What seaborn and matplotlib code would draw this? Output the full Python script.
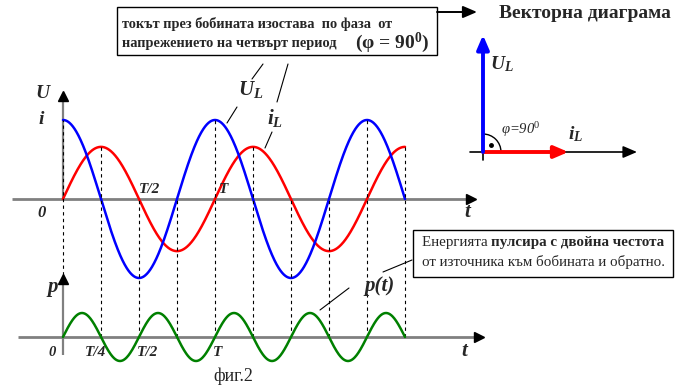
import numpy as np
import pandas as pd
import matplotlib
matplotlib.use("Agg")
import matplotlib.pyplot as plt
import seaborn as sns
from matplotlib.patches import Rectangle, Arc, FancyArrowPatch
from matplotlib.lines import Line2D

sns.set_theme(style="white")
plt.rcParams['font.family'] = ['Liberation Serif', 'DejaVu Serif']
plt.rcParams['mathtext.fontset'] = 'custom'
plt.rcParams['mathtext.rm'] = 'Liberation Serif'
plt.rcParams['mathtext.it'] = 'Liberation Serif:italic'
plt.rcParams['mathtext.bf'] = 'Liberation Serif:bold:italic'
plt.rcParams['mathtext.sf'] = 'Liberation Serif:bold'

# ---------------- data ----------------
PERIOD = 1.0                 # T
N_PERIODS = 2.25             # curves run from 0 to 2.25 T
U_AMPLITUDE = 1.0            # voltage amplitude
I_AMPLITUDE = 0.66           # current amplitude
P_AMPLITUDE = 1.0            # power amplitude
PHASE_SHIFT_DEG = 90         # voltage leads current by 90 degrees
MARK_TIMES = [0.0, 0.25, 0.5, 0.75, 1.0, 1.25, 1.5, 1.75, 2.0, 2.25]
VECTOR_U = 1.0               # phasor lengths in the vector diagram
VECTOR_I = 0.73

top_tick_labels = ['T/2', 'T']
bottom_tick_labels = ['0', 'T/4', 'T/2', 'T']

# ---------------- layout (pixels) ----------------
W, H = 691, 389
X0_PX, T_PX = 63, 152
UI_ZERO_PX, U_PX = 199, 79
P_ZERO_PX, P_PX = 337, 24
VX, VY, VU = 483, 152, 117

GRAY = '#808080'
BLUE = '#0000FF'
RED = '#FF0000'
GREEN = '#008000'


def fx(px):
    return px / W


def fy(py):
    return 1 - py / H


def t_of(px):
    return (px - X0_PX) / T_PX


def ui_of(py):
    return (UI_ZERO_PX - py) / U_PX


def p_of(py):
    return (P_ZERO_PX - py) / P_PX


fig = plt.figure(figsize=(W / 100, H / 100), dpi=100)
fig.patch.set_facecolor('white')
ax_ui = fig.add_axes([0, 0, 1, 1])
ax_p = fig.add_axes([0, 0, 1, 1])
ax_v = fig.add_axes([0, 0, 1, 1])

# ---------------- curves ----------------
t = np.linspace(0, N_PERIODS * PERIOD, 800)
omega = 2 * np.pi / PERIOD
df = pd.DataFrame({
    't': t,
    'U': U_AMPLITUDE * np.sin(omega * t + np.radians(PHASE_SHIFT_DEG)),
    'i': I_AMPLITUDE * np.sin(omega * t),
})
df['p'] = P_AMPLITUDE * np.sin(2 * omega * t)

# dashed guide lines at quarter periods (drawn in the p axes)
mt = np.array(MARK_TIMES)
u_m = U_AMPLITUDE * np.sin(omega * mt + np.radians(PHASE_SHIFT_DEG))
i_m = I_AMPLITUDE * np.sin(omega * mt)
for k, m in enumerate(mt):
    top_ui = max(u_m[k], i_m[k], 0.0)
    top_px = UI_ZERO_PX - top_ui * U_PX
    bottom = p_of(275) if k == 0 else 0.0
    ax_p.plot([m, m], [bottom, p_of(top_px)], color='black', lw=0.8,
              ls=(0, (3, 3)), zorder=1)

# axes of the U/i graph
ax_ui.plot([t_of(12), t_of(470)], [0, 0], color=GRAY, lw=2, zorder=2, solid_capstyle='butt')
ax_ui.plot([t_of(471)], [0], marker='>', ms=7, color='black', zorder=3)
ax_ui.plot([0, 0], [0, ui_of(97)], color=GRAY, lw=1.6, zorder=2, solid_capstyle='butt')
ax_ui.plot([0], [ui_of(96)], marker='^', ms=7, color='black', zorder=3)

# axes of the p graph
ax_p.plot([t_of(18), t_of(478)], [0, 0], color=GRAY, lw=2, zorder=2, solid_capstyle='butt')
ax_p.plot([t_of(479)], [0], marker='>', ms=7, color='black', zorder=3)
ax_p.plot([0, 0], [p_of(355), p_of(280)], color=GRAY, lw=1.6, zorder=2, solid_capstyle='butt')
ax_p.plot([0], [p_of(279)], marker='^', ms=7, color='black', zorder=3)

sns.lineplot(data=df, x='t', y='i', ax=ax_ui, color=RED, lw=1.8, sort=False,
             estimator=None, legend=False, zorder=4)
sns.lineplot(data=df, x='t', y='U', ax=ax_ui, color=BLUE, lw=1.8, sort=False,
             estimator=None, legend=False, zorder=5)
sns.lineplot(data=df, x='t', y='p', ax=ax_p, color=GREEN, lw=1.8, sort=False,
             estimator=None, legend=False, zorder=4)

# ---------------- vector diagram ----------------
ax_v.plot([-13 / VU, 150 / VU], [0, 0], color='black', lw=1.2, zorder=1)
ax_v.annotate('', xy=(154 / VU, 0), xytext=(140 / VU, 0),
              arrowprops=dict(arrowstyle='-|>,head_length=0.7,head_width=0.3',
                              color='black', lw=1.2, shrinkA=0, shrinkB=0, mutation_scale=12))
ax_v.plot([0, 0], [0, -8 / VU], color='black', lw=1.2, zorder=1)
ax_v.annotate('', xy=(VECTOR_I, 0), xytext=(0, 0),
              arrowprops=dict(arrowstyle='-|>,head_length=0.7,head_width=0.3',
                              color=RED, lw=2.8, shrinkA=0, shrinkB=0, mutation_scale=12),
              zorder=3)
ax_v.annotate('', xy=(0, VECTOR_U), xytext=(0, 0),
              arrowprops=dict(arrowstyle='-|>,head_length=0.7,head_width=0.3',
                              color=BLUE, lw=2.8, shrinkA=0, shrinkB=0, mutation_scale=12),
              zorder=4)
ax_v.add_patch(Arc((0, 0), 2 * 18 / VU, 2 * 18 / VU, theta1=0, theta2=90,
                   color='black', lw=1.0))
ax_v.plot([8 / VU], [7 / VU], marker='o', ms=2.5, color='black')

for a in (ax_ui, ax_p, ax_v):
    a.set_axis_off()
    a.patch.set_alpha(0)
x_lim = (-X0_PX / T_PX, (W - X0_PX) / T_PX)
ax_ui.set_xlim(*x_lim)
ax_ui.set_ylim(-(H - UI_ZERO_PX) / U_PX, UI_ZERO_PX / U_PX)
ax_p.set_xlim(*x_lim)
ax_p.set_ylim(-(H - P_ZERO_PX) / P_PX, P_ZERO_PX / P_PX)
ax_v.set_xlim(-VX / VU, (W - VX) / VU)
ax_v.set_ylim(-(H - VY) / VU, VY / VU)

# ---------------- texts ----------------
BI = dict(fontweight='bold', fontstyle='italic', ha='center', va='center')


def ftext(x, y, s, **kw):
    return fig.text(fx(x), fy(y), s, **kw)


ftext(42, 93, 'U', fontsize=14, **BI)
ftext(41, 120, 'i', fontsize=14, **BI)
ftext(42, 213, '0', fontsize=12, **BI)
for lab, x in zip(top_tick_labels, [150, 224]):
    ftext(x, 190, lab, fontsize=11, **BI)
ftext(467, 212, 't', fontsize=15, **BI)
ftext(251, 89, r'$\mathbf{U}_{\mathbf{L}}$', fontsize=15, **BI)
ftext(275, 118, r'$\mathbf{i}_{\mathbf{L}}$', fontsize=15, **BI)

ftext(53, 287, 'p', fontsize=15, **BI)
for lab, x in zip(bottom_tick_labels, [52, 96, 148, 218]):
    ftext(x, 353, lab, fontsize=11 if lab != '0' else 10.5, **BI)
ftext(464, 351, 't', fontsize=15, **BI)
ftext(380, 286, 'p(t)', fontsize=15, **BI)
ftext(233, 376, 'фиг.2', fontsize=13, ha='center', va='center')

# vector diagram labels
ftext(502, 64, r'$\mathbf{U}_{\mathbf{L}}$', fontsize=14, **BI)
ftext(576, 134, r'$\mathbf{i}_{\mathbf{L}}$', fontsize=14, **BI)
ftext(521, 130, r'φ=90$^{\mathit{0}}$', fontsize=10.5, fontstyle='italic',
      ha='center', va='center')
ftext(585, 14, 'Векторна диаграма', fontsize=14, fontweight='bold',
      ha='center', va='center')

# top box
fig.add_artist(Rectangle((fx(117), fy(55)), fx(437 - 117), (55 - 7) / H,
                         transform=fig.transFigure, fill=False, ec='black', lw=1.0))
ftext(122, 24, 'токът през бобината изостава  по фаза  от', fontsize=10.4,
      fontweight='bold', ha='left', va='center')
t2 = ftext(122, 44, 'напрежението на четвърт период', fontsize=10.4,
           fontweight='bold', ha='left', va='center')
fig.canvas.draw()
bb = t2.get_window_extent()
fig.text(bb.x1 / W + fx(18), fy(48.5), '(φ = 90$^{\\mathsf{0}}$)', fontsize=14,
         fontweight='bold', ha='left', va='baseline')

# arrow box -> vector diagram title
fig.add_artist(FancyArrowPatch(
    (fx(437), fy(12)), (fx(477), fy(12)), transform=fig.transFigure,
    arrowstyle='-|>,head_length=0.7,head_width=0.3', mutation_scale=12,
    color='black', lw=1.4, shrinkA=0, shrinkB=0))

# energy box
fig.add_artist(Rectangle((fx(413), fy(277)), fx(673 - 413), (277 - 230) / H,
                         transform=fig.transFigure, fill=False, ec='black', lw=1.0))
e1 = ftext(422, 243, 'Енергията ', fontsize=10.8, ha='left', va='center')
fig.canvas.draw()
bb = e1.get_window_extent()
fig.text(bb.x1 / W, fy(243), 'пулсира с двойна честота', fontsize=10.8,
         fontweight='bold', ha='left', va='center')
ftext(422, 262, 'от източника към бобината и обратно.', fontsize=10.8,
      ha='left', va='center')

# leader lines
for (x1, y1), (x2, y2) in [((263, 64), (252, 79)), ((237, 107), (227, 123)),
                           ((288, 64), (277, 102)), ((272, 132), (265, 148)),
                           ((349, 288), (320, 310)), ((412, 260), (383, 272))]:
    fig.add_artist(Line2D([fx(x1), fx(x2)], [fy(y1), fy(y2)],
                          transform=fig.transFigure, color='black', lw=0.8))

fig.savefig('out.png', dpi=100)
